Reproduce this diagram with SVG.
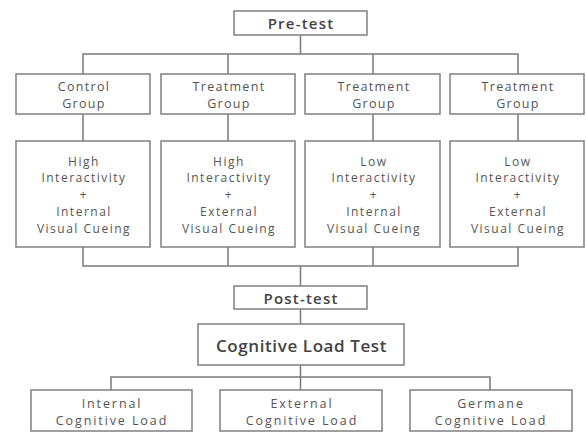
<svg xmlns="http://www.w3.org/2000/svg" width="586" height="432" viewBox="0 0 586 432">
<style>
.box{fill:#fff;stroke:#808080;stroke-width:1.5}
.ln{fill:none;stroke:#7a7a7a;stroke-width:1.5}
text{font-family:"Open Sans","Noto Sans","Liberation Sans",sans-serif;fill:#555;text-anchor:middle;dominant-baseline:central}
.g{font-size:12.5px;letter-spacing:1.3px}
.t{font-size:12px;letter-spacing:1.5px}
.b{font-size:12.5px;letter-spacing:1.9px}
.h{font-size:15px;font-weight:600;fill:#444;letter-spacing:1.2px}
.c{font-size:17px;font-weight:600;fill:#444;letter-spacing:0.6px}
</style>
<rect width="586" height="432" fill="#fff"/>
<g id="connectors">
<path class="ln" d="M300.5 35V54M83 74V54H518V74M228 54V74M373 54V74"/>
<path class="ln" d="M83 114V141M228 114V141M373 114V141M518 114V141"/>
<path class="ln" d="M83 247V266H518V247M228 247V266M373 247V266M300.5 266V286"/>
<path class="ln" d="M300.5 309V324M300.5 365V390M111 390V377H490V390"/>
</g>
<g id="pretest"><rect class="box" x="234" y="11" width="133" height="24"/><text class="h" x="301" y="23">Pre-test</text></g>
<g id="control"><rect class="box" x="16" y="74" width="134" height="40"/><text class="g" x="84" y="86">Control</text><text class="g" x="84" y="103">Group</text></g>
<g id="treat1"><rect class="box" x="161" y="74" width="134" height="40"/><text class="g" x="229" y="86">Treatment</text><text class="g" x="229" y="103">Group</text></g>
<g id="treat2"><rect class="box" x="305" y="74" width="135" height="40"/><text class="g" x="374" y="86">Treatment</text><text class="g" x="374" y="103">Group</text></g>
<g id="treat3"><rect class="box" x="450" y="74" width="134" height="40"/><text class="g" x="518" y="86">Treatment</text><text class="g" x="518" y="103">Group</text></g>
<g id="cond1"><rect class="box" x="16" y="141" width="134" height="106"/><text class="t" x="84" y="161">High</text><text class="t" x="84" y="177.75">Interactivity</text><text class="t" x="84" y="194.5">+</text><text class="t" x="84" y="211.25">Internal</text><text class="t" x="84" y="228">Visual Cueing</text></g>
<g id="cond2"><rect class="box" x="161" y="141" width="134" height="106"/><text class="t" x="229" y="161">High</text><text class="t" x="229" y="177.75">Interactivity</text><text class="t" x="229" y="194.5">+</text><text class="t" x="229" y="211.25">External</text><text class="t" x="229" y="228">Visual Cueing</text></g>
<g id="cond3"><rect class="box" x="305" y="141" width="135" height="106"/><text class="t" x="374" y="161">Low</text><text class="t" x="374" y="177.75">Interactivity</text><text class="t" x="374" y="194.5">+</text><text class="t" x="374" y="211.25">Internal</text><text class="t" x="374" y="228">Visual Cueing</text></g>
<g id="cond4"><rect class="box" x="450" y="141" width="134" height="106"/><text class="t" x="518" y="161">Low</text><text class="t" x="518" y="177.75">Interactivity</text><text class="t" x="518" y="194.5">+</text><text class="t" x="518" y="211.25">External</text><text class="t" x="518" y="228">Visual Cueing</text></g>
<g id="posttest"><rect class="box" x="234" y="286" width="133" height="23"/><text class="h" x="301" y="297.5">Post-test</text></g>
<g id="cltest"><rect class="box" x="198" y="324" width="206" height="41"/><text class="c" x="301.5" y="345">Cognitive Load Test</text></g>
<g id="internal"><rect class="box" x="31" y="390" width="161" height="41"/><text class="b" x="112" y="403">Internal</text><text class="b" x="112" y="420">Cognitive Load</text></g>
<g id="external"><rect class="box" x="220" y="390" width="162" height="41"/><text class="b" x="302" y="403">External</text><text class="b" x="302" y="420">Cognitive Load</text></g>
<g id="germane"><rect class="box" x="410" y="390" width="162" height="41"/><text class="b" x="491" y="403">Germane</text><text class="b" x="491" y="420">Cognitive Load</text></g>
</svg>
